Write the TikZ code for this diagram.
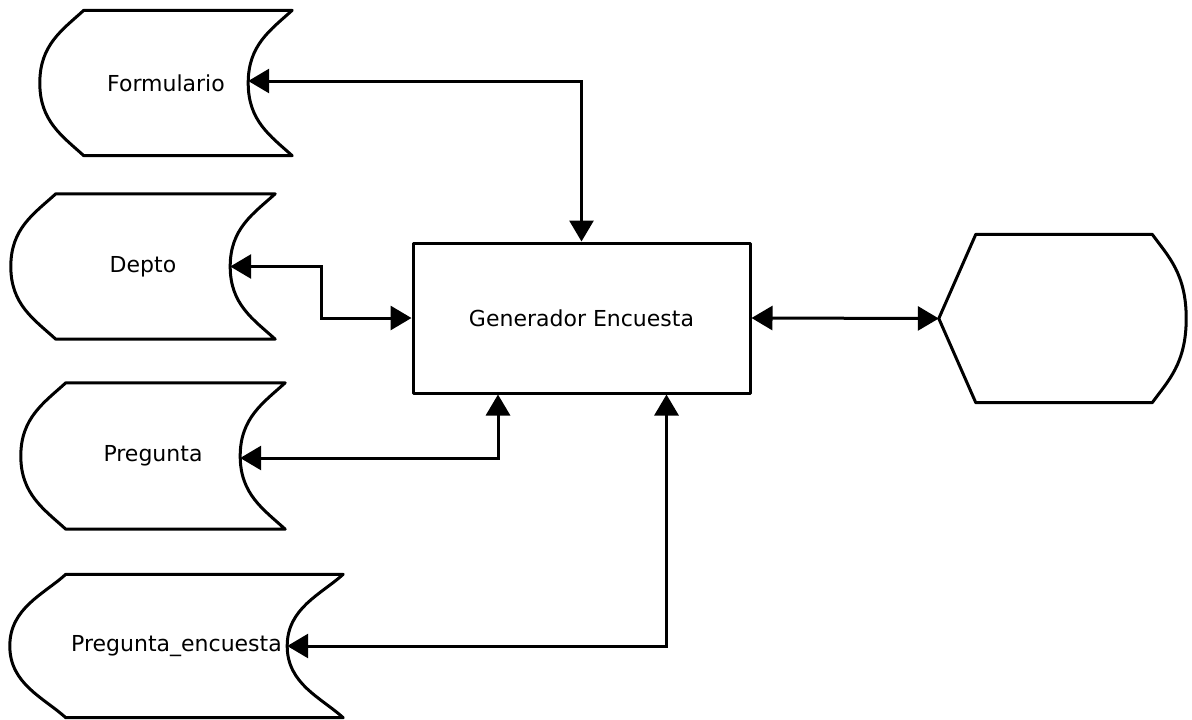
\documentclass[tikz,border=0pt]{standalone}
\usepackage{fontspec}
\setmainfont{DejaVu Sans}
\usetikzlibrary{arrows.meta}

\newcommand{\almacen}[2]{%
  \draw[borde] ([xshift=#2pt]#1.north west) -- (#1.north east)
    .. controls ([xshift=-22pt,yshift=-20pt]#1.north east) and ([xshift=-#2pt,yshift=38pt]#1.east) .. ([xshift=-#2pt]#1.east)
    .. controls ([xshift=-#2pt,yshift=-38pt]#1.east) and ([xshift=-22pt,yshift=20pt]#1.south east) .. (#1.south east)
    -- ([xshift=#2pt]#1.south west)
    .. controls ([xshift=#2pt-22pt,yshift=20pt]#1.south west) and ([yshift=-38pt]#1.west) .. (#1.west)
    .. controls ([yshift=38pt]#1.west) and ([xshift=#2pt-22pt,yshift=-20pt]#1.north west) .. cycle;}

\begin{document}
\begin{tikzpicture}[x=1pt, y=-1pt,
  font=\fontsize{22}{26}\selectfont,
  borde/.style={draw, line width=3pt, line join=round},
  dato/.style={inner sep=0pt},
  proceso/.style={borde, rectangle, minimum width=337pt, minimum height=150pt},
  flecha/.style={line width=3pt, {Triangle[length=21pt,width=24pt]}-{Triangle[length=21pt,width=24pt]}}]
\useasboundingbox (0,0) rectangle (1192,720);

% procesos
\node[proceso] (gen) at (581.5,318) {Generador Encuesta};

% almacenes
\node[dato, minimum width=252pt, minimum height=145pt] (formulario) at (166,83) {Formulario};
\node[dato, minimum width=264pt, minimum height=145pt] (depto) at (143,266.5) {Depto};
\node[dato, minimum width=264pt, minimum height=146pt] (pregunta) at (153,456) {Pregunta};
\node[dato, minimum width=333pt, minimum height=143pt] (pencuesta) at (176.5,646) {Pregunta\_encuesta};
\almacen{formulario}{44}
\almacen{depto}{45}
\almacen{pregunta}{45}
\almacen{pencuesta}{56}

% salida
\node[dato, minimum width=247pt, minimum height=168pt] (salida) at (1062.5,318.5) {};
\draw[borde] (salida.west) -- ([xshift=37pt]salida.north west) -- ([xshift=-34pt]salida.north east)
  .. controls ([xshift=-18pt,yshift=-22pt]salida.north east) and ([yshift=45pt]salida.east) .. (salida.east)
  .. controls ([yshift=-45pt]salida.east) and ([xshift=-18pt,yshift=22pt]salida.south east) .. ([xshift=-34pt]salida.south east)
  -- ([xshift=37pt]salida.south west) -- cycle;

% flujos
\draw[flecha] ([xshift=-44pt,yshift=2pt]formulario.east) -| (gen.north);
\draw[flecha] ([xshift=-45pt]depto.east) -- ++(91,0) |- (gen.west);
\draw[flecha] ([xshift=-45pt,yshift=-2pt]pregunta.east) -| ([xshift=-83.5pt]gen.south);
\draw[flecha] ([xshift=-56pt]pencuesta.east) -| ([xshift=85pt]gen.south);
\draw[flecha] (gen.east) -- (salida.west);
\end{tikzpicture}
\end{document}
